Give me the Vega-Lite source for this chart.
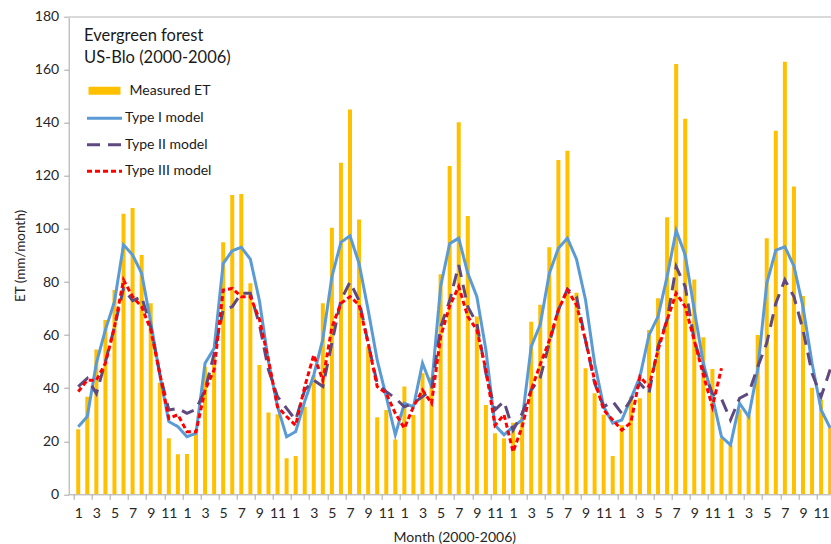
{
  "$schema": "https://vega.github.io/schema/vega-lite/v6.json",
  "width": 762.3,
  "height": 477.6,
  "autosize": {"type": "none"},
  "padding": {"left": 68.7, "top": 16.7, "right": 0, "bottom": 49.7},
  "config": {
    "font": "Lato",
    "view": {"stroke": null},
    "axis": {"grid": false, "tickSize": 5, "tickColor": "#A6A6A6", "domainColor": "#A6A6A6",
      "labelFontSize": 14, "labelColor": "#262626", "titleFontWeight": "normal", "titleColor": "#262626"},
    "axisX": {"labelPadding": 7, "titleFontSize": 14, "titlePadding": 10, "labelFlush": false, "labelOverlap": false},
    "axisY": {"labelPadding": 5, "titleFontSize": 13.5, "titlePadding": 7}
  },
  "data": {"values": [
    {"k":1,"et":24.5,"t1":25.5,"t2":40.6,"t3":38.7},
    {"k":2,"et":36.8,"t1":29.3,"t2":43.7,"t3":43},
    {"k":3,"et":54.6,"t1":49.4,"t2":38,"t3":43},
    {"k":4,"et":65.7,"t1":62,"t2":50,"t3":49.4},
    {"k":5,"et":77,"t1":72.6,"t2":63,"t3":63},
    {"k":6,"et":105.7,"t1":94,"t2":77.6,"t3":80.8},
    {"k":7,"et":107.9,"t1":90.2,"t2":73,"t3":74.5},
    {"k":8,"et":90.2,"t1":83.3,"t2":74.5,"t3":70.7},
    {"k":9,"et":72,"t1":65,"t2":63,"t3":62},
    {"k":10,"et":42,"t1":45,"t2":45.6,"t3":45.6},
    {"k":11,"et":21.1,"t1":27.4,"t2":31.8,"t3":28.6},
    {"k":12,"et":15.1,"t1":25.5,"t2":32.4,"t3":30},
    {"k":13,"et":15.2,"t1":21.7,"t2":30.5,"t3":23.6},
    {"k":14,"et":23,"t1":23,"t2":32,"t3":23.6},
    {"k":15,"et":48,"t1":49.4,"t2":39.3,"t3":39.3},
    {"k":16,"et":52,"t1":55,"t2":53,"t3":46.9},
    {"k":17,"et":95,"t1":87,"t2":69.5,"t3":77},
    {"k":18,"et":112.8,"t1":91.8,"t2":70.7,"t3":77.6},
    {"k":19,"et":113.2,"t1":93.1,"t2":75.8,"t3":74.5},
    {"k":20,"et":79.5,"t1":88.6,"t2":75.8,"t3":74.5},
    {"k":21,"et":48.7,"t1":73,"t2":64,"t3":66},
    {"k":22,"et":30.8,"t1":50,"t2":46.9,"t3":50.6},
    {"k":23,"et":30.2,"t1":33,"t2":36.8,"t3":33},
    {"k":24,"et":13.6,"t1":21.7,"t2":32.4,"t3":29.3},
    {"k":25,"et":14.4,"t1":23.6,"t2":28,"t3":26},
    {"k":26,"et":33,"t1":35,"t2":39.3,"t3":40.6},
    {"k":27,"et":45,"t1":45,"t2":43,"t3":52.5},
    {"k":28,"et":72,"t1":58.5,"t2":40.6,"t3":43},
    {"k":29,"et":100.5,"t1":82,"t2":57,"t3":63},
    {"k":30,"et":125,"t1":95,"t2":73.2,"t3":72},
    {"k":31,"et":145,"t1":97.4,"t2":80,"t3":74.5},
    {"k":32,"et":103.6,"t1":87,"t2":73,"t3":71.4},
    {"k":33,"et":55.7,"t1":69.5,"t2":57,"t3":57},
    {"k":34,"et":29,"t1":50.6,"t2":41.8,"t3":40.6},
    {"k":35,"et":31.8,"t1":36.8,"t2":38.7,"t3":38},
    {"k":36,"et":20.7,"t1":22.4,"t2":36.2,"t3":30.5},
    {"k":37,"et":40.6,"t1":34.3,"t2":33,"t3":24.9},
    {"k":38,"et":29.9,"t1":33,"t2":34.3,"t3":33},
    {"k":39,"et":45.6,"t1":49.4,"t2":36.8,"t3":39.3},
    {"k":40,"et":44,"t1":40.6,"t2":39.3,"t3":34.3},
    {"k":41,"et":82.9,"t1":78.3,"t2":63,"t3":59.4},
    {"k":42,"et":123.7,"t1":94.5,"t2":73,"t3":71},
    {"k":43,"et":140.2,"t1":96.5,"t2":86.4,"t3":78.3},
    {"k":44,"et":104.9,"t1":83.3,"t2":70.7,"t3":67},
    {"k":45,"et":67,"t1":74.5,"t2":64.4,"t3":62},
    {"k":46,"et":33.7,"t1":54.4,"t2":45.6,"t3":46.9},
    {"k":47,"et":23,"t1":26.1,"t2":31.8,"t3":26},
    {"k":48,"et":21.1,"t1":22.4,"t2":35,"t3":30},
    {"k":49,"et":27,"t1":25.5,"t2":24.2,"t3":16},
    {"k":50,"et":29,"t1":28,"t2":30.5,"t3":25.5},
    {"k":51,"et":65,"t1":55.7,"t2":39.3,"t3":39.3},
    {"k":52,"et":71.4,"t1":64,"t2":44,"t3":49},
    {"k":53,"et":93.1,"t1":83.3,"t2":57,"t3":58},
    {"k":54,"et":126,"t1":92.7,"t2":69.5,"t3":69.5},
    {"k":55,"et":129.5,"t1":96.5,"t2":77.3,"t3":77},
    {"k":56,"et":76,"t1":88.6,"t2":74.5,"t3":71.4},
    {"k":57,"et":47.5,"t1":73.2,"t2":58,"t3":58},
    {"k":58,"et":38.1,"t1":49.4,"t2":41.8,"t3":43},
    {"k":59,"et":30,"t1":33,"t2":33,"t3":31.8},
    {"k":60,"et":14.4,"t1":26.8,"t2":35,"t3":28},
    {"k":61,"et":26,"t1":28,"t2":30.5,"t3":24.2},
    {"k":62,"et":36.8,"t1":36,"t2":35.6,"t3":27},
    {"k":63,"et":36.2,"t1":44.3,"t2":41.8,"t3":44.3},
    {"k":64,"et":61.9,"t1":60,"t2":38,"t3":40.6},
    {"k":65,"et":73.9,"t1":67,"t2":55.7,"t3":54.4},
    {"k":66,"et":104.4,"t1":82,"t2":65.7,"t3":65.7},
    {"k":67,"et":162.2,"t1":99.4,"t2":85.8,"t3":75.8},
    {"k":68,"et":141.5,"t1":90.2,"t2":78.3,"t3":70.7},
    {"k":69,"et":81,"t1":69.5,"t2":58,"t3":58},
    {"k":70,"et":59.2,"t1":49.4,"t2":46.9,"t3":45},
    {"k":71,"et":47.2,"t1":36.8,"t2":38,"t3":33},
    {"k":72,"et":21.1,"t1":21.7,"t2":36,"t3":47.5},
    {"k":73,"et":18.5,"t1":18.6,"t2":28,"t3":null},
    {"k":74,"et":32,"t1":34.3,"t2":36.2,"t3":null},
    {"k":75,"et":29.9,"t1":29.3,"t2":38,"t3":null},
    {"k":76,"et":60,"t1":46.9,"t2":48,"t3":null},
    {"k":77,"et":96.5,"t1":79.5,"t2":57,"t3":null},
    {"k":78,"et":137,"t1":92,"t2":72,"t3":null},
    {"k":79,"et":163,"t1":93.3,"t2":80.8,"t3":null},
    {"k":80,"et":116,"t1":86,"t2":74.5,"t3":null},
    {"k":81,"et":74.7,"t1":70.7,"t2":62,"t3":null},
    {"k":82,"et":40.2,"t1":49.4,"t2":45.6,"t3":null},
    {"k":83,"et":35.6,"t1":31.8,"t2":36.8,"t3":null},
    {"k":84,"et":25,"t1":25,"t2":47,"t3":null}
  ]},
  "layer": [
    {
      "mark": {"type": "bar", "width": 4, "clip": true},
      "encoding": {
        "x": {"field": "k", "type": "quantitative", "title": "Month (2000-2006)",
          "scale": {"domain": [0.5, 83.54], "nice": false, "zero": false},
          "axis": {"values": [1,3,5,7,9,11,13,15,17,19,21,23,25,27,29,31,33,35,37,39,41,43,45,47,49,51,53,55,57,59,61,63,65,67,69,71,73,75,77,79,81,83],
            "labelExpr": "(datum.value-1)%12+1", "tickOffset": -4.59, "labelOffset": 4.59,
            "labelFlush": false, "labelOverlap": false, "titleX": 385.6}},
        "y": {"field": "et", "type": "quantitative", "title": "ET (mm/month)",
          "scale": {"domain": [0, 180], "nice": false},
          "axis": {"values": [0,20,40,60,80,100,120,140,160,180]}},
        "fill": {"datum": "Measured ET", "type": "nominal",
          "scale": {"range": ["#FFC000"]},
          "legend": {"orient": "none", "legendX": 15.3, "legendY": 11.5, "padding": 0,
            "title": ["Evergreen forest", "US-Blo (2000-2006)"], "titleFontSize": 16.5, "titleFontWeight": "normal",
            "titleColor": "#1a1a1a", "titleLineHeight": 22, "titlePadding": 14,
            "symbolType": "M-1.6,-0.4H1.6V0.4H-1.6Z", "symbolSize": 400, "symbolStrokeWidth": 0,
            "symbolOffset": 10.5, "labelOffset": 15, "labelFontSize": 14, "labelColor": "#1a1a1a"}}
      }
    },
    {
      "transform": [{"fold": ["t1", "t2", "t3"], "as": ["series", "value"]}],
      "mark": {"type": "line", "clip": true, "strokeWidth": 3},
      "encoding": {
        "x": {"field": "k", "type": "quantitative", "title": "Month (2000-2006)",
          "axis": {"values": [1,3,5,7,9,11,13,15,17,19,21,23,25,27,29,31,33,35,37,39,41,43,45,47,49,51,53,55,57,59,61,63,65,67,69,71,73,75,77,79,81,83],
            "labelExpr": "(datum.value-1)%12+1", "tickOffset": -4.59, "labelOffset": 4.59,
            "labelFlush": false, "labelOverlap": false, "titleX": 385.6}},
        "y": {"field": "value", "type": "quantitative", "title": "ET (mm/month)",
          "axis": {"values": [0,20,40,60,80,100,120,140,160,180]}},
        "stroke": {"field": "series", "type": "nominal",
          "scale": {"domain": ["t1", "t2", "t3"], "range": ["#5B9BD5", "#5F4A80", "#FF0000"]},
          "legend": {"orient": "none", "legendX": 15.3, "legendY": 90, "padding": 0, "title": null,
            "symbolType": "M-1.75,0H1.75", "symbolSize": 400, "symbolStrokeWidth": 3,
            "symbolOffset": 9, "labelOffset": 9, "rowPadding": 7.5, "labelFontSize": 14, "labelColor": "#1a1a1a",
            "labelExpr": "datum.label == 't1' ? 'Type I model' : datum.label == 't2' ? 'Type II model' : 'Type III model'"}},
        "strokeDash": {"field": "series", "type": "nominal",
          "scale": {"domain": ["t1", "t2", "t3"], "range": [[1, 0], [13, 8], [5, 3]]},
          "legend": {"orient": "none", "legendX": 15.3, "legendY": 90, "padding": 0, "title": null,
            "symbolType": "M-1.75,0H1.75", "symbolSize": 400, "symbolStrokeWidth": 3,
            "symbolOffset": 9, "labelOffset": 9, "rowPadding": 7.5, "labelFontSize": 14, "labelColor": "#1a1a1a",
            "labelExpr": "datum.label == 't1' ? 'Type I model' : datum.label == 't2' ? 'Type II model' : 'Type III model'"}}
      }
    },
    {
      "mark": {"type": "rule", "color": "#D9D9D9", "strokeWidth": 1},
      "encoding": {"y": {"datum": 180, "type": "quantitative", "title": "ET (mm/month)",
        "axis": {"values": [0,20,40,60,80,100,120,140,160,180]}}}
    }
  ]
}
